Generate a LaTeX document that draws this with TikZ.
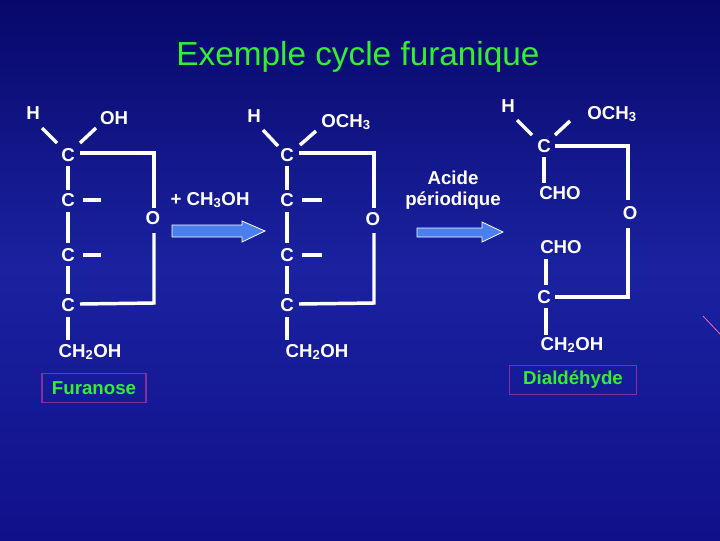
\documentclass[tikz,border=0pt]{standalone}
\usepackage{fontspec}
\setmainfont{Liberation Sans}
\definecolor{bgtop}{HTML}{08086A}
\definecolor{bgbot}{HTML}{10108A}
\definecolor{bgmid}{HTML}{1A22A0}
\definecolor{ttl}{HTML}{33EE33}
\definecolor{arr}{HTML}{4A80EE}
\definecolor{box}{HTML}{8030A0}
\begin{document}
\begin{tikzpicture}[x=0.75pt,y=-0.75pt,
  lbl/.style={text=white,font=\bfseries\fontsize{14}{16}\selectfont,inner sep=0pt},
  bond/.style={white,line width=2.6pt},
  tag/.style={draw=box,line width=0.8pt,text=ttl,font=\bfseries\fontsize{14}{16}\selectfont,minimum height=22pt},
  bigarrow/.style={draw=white,fill=arr,line width=0.6pt,line join=miter}]
\useasboundingbox (0,0) rectangle (720,540);
\shade[top color=bgtop,bottom color=bgbot,middle color=bgmid] (0,0) rectangle (720,540);
\draw[magenta!60,line width=0.6pt] (703,316) -- (720,334);
\node[text=ttl,font=\fontsize{25}{29}\selectfont] (title) at (358,57) {Exemple cycle furanique};
% left
\node[lbl] (aH) at (33,113) {H};
\node[lbl] (aOH) at (114,118) {OH};
\node[lbl] (a1) at (68,155) {C};
\node[lbl] (a2) at (68,200) {C};
\node[lbl] (a3) at (68,255) {C};
\node[lbl] (a4) at (68,305) {C};
\node[lbl] (a5) at (90,352) {CH\textsubscript{2}OH};
\node[lbl] (aO) at (153,218) {O};
\draw[bond] (42,128) -- (57,143);
\draw[bond] (80,143) -- (96,128);
\draw[bond] (80,153) -- (154,153) -- (154,208);
\draw[bond] (154,233) -- (154,303) -- (80,304);
\draw[bond] (83,200) -- (101,200);
\draw[bond] (83,255) -- (101,255);
\draw[bond] (68,166) -- (68,190);
\draw[bond] (68,212) -- (68,243);
\draw[bond] (68,266) -- (68,294);
\draw[bond] (68,317) -- (68,340);
\node[tag,minimum width=78pt] (fur) at (94,388) {Furanose};
% arrow 1
\draw[bigarrow] (172,225) -- (242,225) -- (242,221) -- (265,231) -- (242,242) -- (242,237) -- (172,237) -- cycle;
\node[text=white,font=\bfseries\fontsize{14}{16}\selectfont] (reag) at (210,200) {+ CH\textsubscript{3}OH};
% middle
\node[lbl] (bH) at (254,116) {H};
\node[lbl] (bOC) at (346,122) {OCH\textsubscript{3}};
\node[lbl] (b1) at (287,155) {C};
\node[lbl] (b2) at (287,200) {C};
\node[lbl] (b3) at (287,255) {C};
\node[lbl] (b4) at (287,305) {C};
\node[lbl] (b5) at (317,352) {CH\textsubscript{2}OH};
\node[lbl] (bO) at (373,219) {O};
\draw[bond] (263,130) -- (278,146);
\draw[bond] (300,145) -- (316,131);
\draw[bond] (299,153) -- (374,153) -- (374,208);
\draw[bond] (374,233) -- (374,303) -- (299,304);
\draw[bond] (302,200) -- (322,200);
\draw[bond] (302,255) -- (322,255);
\draw[bond] (287,166) -- (287,190);
\draw[bond] (287,212) -- (287,243);
\draw[bond] (287,266) -- (287,294);
\draw[bond] (287,317) -- (287,340);
% arrow 2
\draw[bigarrow] (417,228) -- (482,228) -- (482,222) -- (503,232) -- (482,242) -- (482,237) -- (417,237) -- cycle;
\node[text=white,font=\bfseries\fontsize{14}{16}\selectfont,align=center,inner sep=0pt] (reag2) at (453,190) {Acide\\[0pt]périodique};
% right
\node[lbl] (cH) at (508,106) {H};
\node[lbl] (cOC) at (612,114) {OCH\textsubscript{3}};
\node[lbl] (c1) at (544,146) {C};
\node[lbl] (c2) at (560,193) {CHO};
\node[lbl] (c3) at (561,247) {CHO};
\node[lbl] (c4) at (544,297) {C};
\node[lbl] (c5) at (572,345) {CH\textsubscript{2}OH};
\node[lbl] (cO) at (630,213) {O};
\draw[bond] (517,120) -- (532,135);
\draw[bond] (555,135) -- (570,121);
\draw[bond] (555,146) -- (628,146) -- (628,200);
\draw[bond] (628,228) -- (628,297) -- (555,297);
\draw[bond] (544,157) -- (544,183);
\draw[bond] (546,259) -- (546,285);
\draw[bond] (546,308) -- (546,335);
\node[tag,minimum width=95pt] (dia) at (573,380) {Dialdéhyde};
\end{tikzpicture}
\end{document}
